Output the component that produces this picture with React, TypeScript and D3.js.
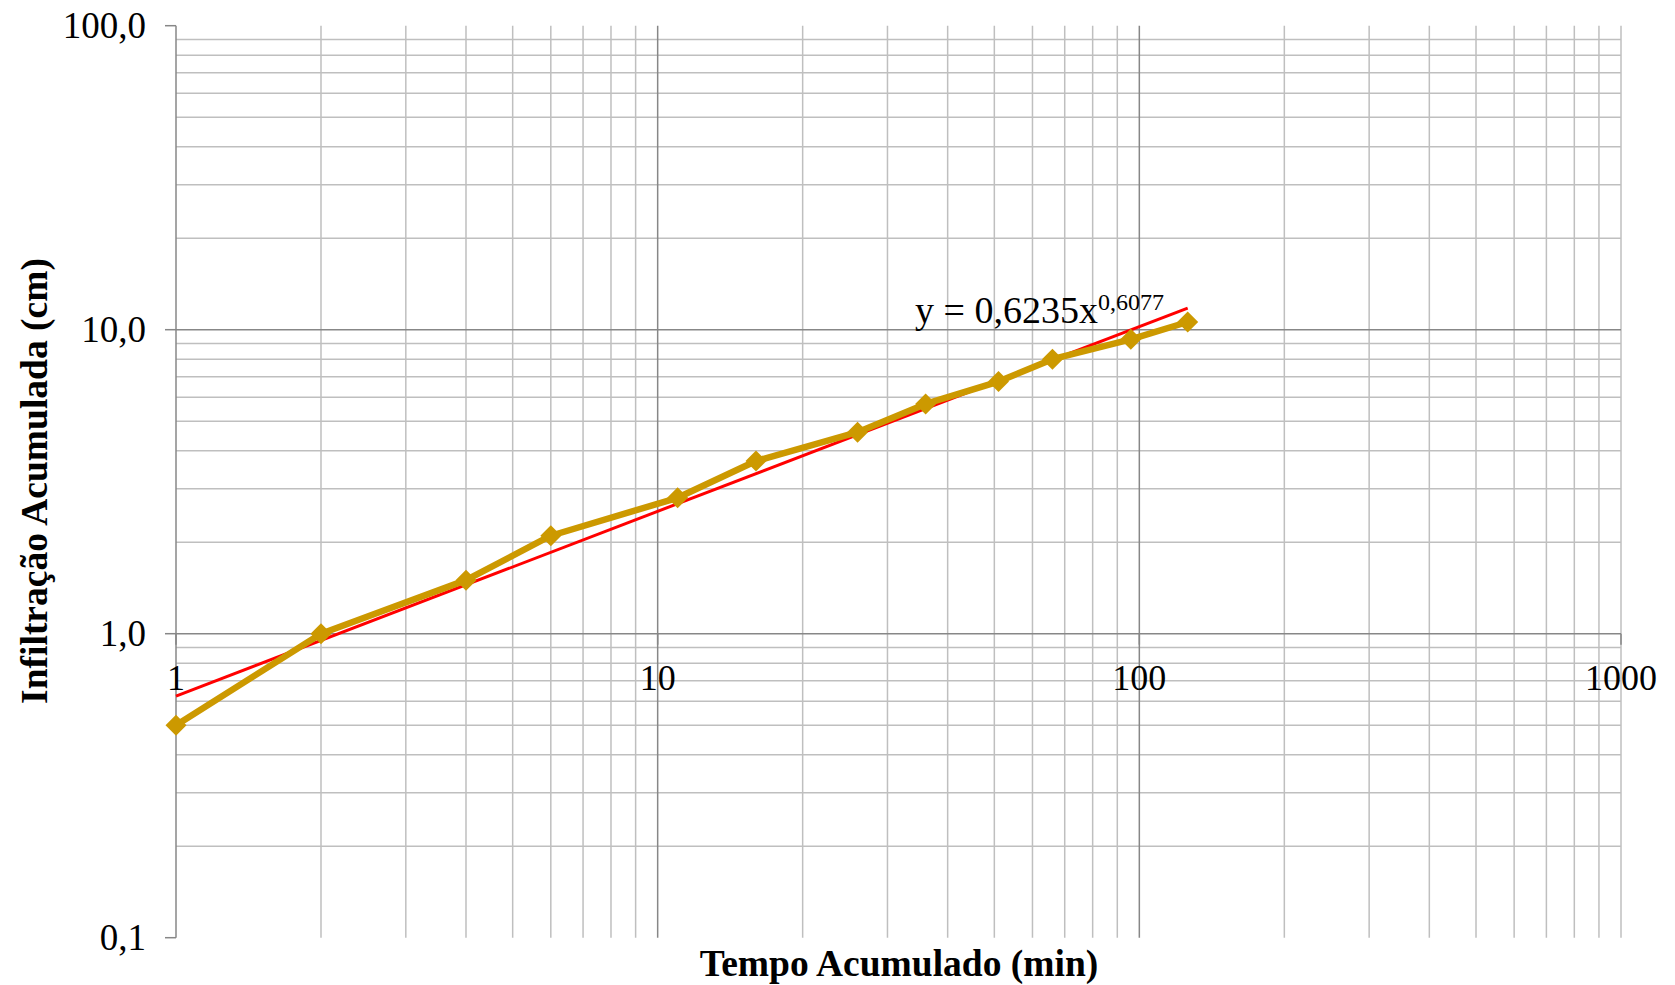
import React from "react";
import * as d3 from "d3";

const tempo = [1, 2, 4, 6, 11, 16, 26, 36, 51, 66, 96, 126];
const infiltracao = [0.5, 1.0, 1.5, 2.1, 2.8, 3.7, 4.6, 5.7, 6.75, 8.0, 9.3, 10.6];
const xTicks = [1, 10, 100, 1000];
const xTickLabels = ["1", "10", "100", "1000"];
const yTicks = [0.1, 1, 10, 100];
const yTickLabels = ["0,1", "1,0", "10,0", "100,0"];
const trendA = 0.6235;
const trendB = 0.6077;
const xTitle = "Tempo Acumulado (min)";
const yTitle = "Infiltração Acumulada (cm)";

const W = 1675;
const H = 985;
const L = 176, R = 1621, T = 25.7, B = 937.7;
const FONT = "'Liberation Serif', 'Times New Roman', serif";

export default function App() {
  const x = d3.scaleLog().domain([1, 1000]).range([L, R]);
  const y = d3.scaleLog().domain([0.1, 100]).range([B, T]);

  const minors: number[] = [];
  [1, 10, 100].forEach((d) => {
    for (let k = 2; k <= 9; k++) minors.push(d * k);
  });
  const yMinors: number[] = [];
  [0.1, 1, 10].forEach((d) => {
    for (let k = 2; k <= 9; k++) yMinors.push(+(d * k).toFixed(4));
  });

  const line = d3
    .line<number>()
    .x((_, i) => x(tempo[i]))
    .y((d) => y(d));

  const trendX = [tempo[0], tempo[tempo.length - 1]];
  const trendLine = d3
    .line<number>()
    .x((d) => x(d))
    .y((d) => y(trendA * Math.pow(d, trendB)));

  const minorColor = "#BFBFBF";
  const majorColor = "#878787";

  return (
    <svg
      width={W}
      height={H}
      style={{ position: "absolute", left: 0, top: 0, background: "#fff" }}
      fontFamily={FONT}
    >
      {minors.map((v) => (
        <line key={"vx" + v} x1={x(v)} x2={x(v)} y1={T} y2={B} stroke={minorColor} strokeWidth={1.5} />
      ))}
      {yMinors.map((v) => (
        <line key={"hy" + v} x1={L} x2={R} y1={y(v)} y2={y(v)} stroke={minorColor} strokeWidth={1.5} />
      ))}
      {[10, 100].map((v) => (
        <line key={"mx" + v} x1={x(v)} x2={x(v)} y1={T} y2={B} stroke={majorColor} strokeWidth={1.5} />
      ))}
      <line x1={x(1000)} x2={x(1000)} y1={T} y2={B} stroke={minorColor} strokeWidth={1.5} />
      {[10].map((v) => (
        <line key={"my" + v} x1={L} x2={R} y1={y(v)} y2={y(v)} stroke={majorColor} strokeWidth={1.5} />
      ))}
      <line x1={L} x2={R} y1={y(1)} y2={y(1)} stroke={majorColor} strokeWidth={1.5} />
      {xTicks.map((v) => (
        <line key={"xt" + v} x1={x(v)} x2={x(v)} y1={y(1)} y2={y(1) + 11} stroke={majorColor} strokeWidth={1.5} />
      ))}
      <line x1={L} x2={L} y1={T} y2={B} stroke={majorColor} strokeWidth={1.5} />
      {yTicks.map((v) => (
        <line key={"yt" + v} x1={L - 11} x2={L} y1={y(v)} y2={y(v)} stroke={majorColor} strokeWidth={1.5} />
      ))}

      {yTicks.map((v, i) => (
        <text key={"yl" + v} x={146} y={y(v) + 12.5} textAnchor="end" fontSize={37} fill="#000">
          {yTickLabels[i]}
        </text>
      ))}
      {xTicks.map((v, i) => (
        <text key={"xl" + v} x={x(v)} y={y(1) + 56} textAnchor="middle" fontSize={36} fill="#000">
          {xTickLabels[i]}
        </text>
      ))}

      <path d={trendLine(trendX) || ""} fill="none" stroke="#FF0000" strokeWidth={3} />

      <path
        d={line(infiltracao) || ""}
        fill="none"
        stroke="#CC9900"
        strokeWidth={6.5}
        strokeLinejoin="round"
      />
      {infiltracao.map((v, i) => (
        <path
          key={"m" + i}
          transform={`translate(${x(tempo[i])},${y(v)})`}
          d="M0,-10.5 L10.5,0 L0,10.5 L-10.5,0 Z"
          fill="#CC9900"
        />
      ))}

      <text x={915} y={323} fontSize={38} fill="#000">
        y = 0,6235x
        <tspan fontSize={24} dy={-13}>
          0,6077
        </tspan>
      </text>

      <text x={899} y={976} textAnchor="middle" fontSize={37.5} fontWeight="bold" fill="#000">
        {xTitle}
      </text>
      <text
        transform={`translate(47,481) rotate(-90)`}
        textAnchor="middle"
        fontSize={37.5}
        fontWeight="bold"
        fill="#000"
      >
        {yTitle}
      </text>
    </svg>
  );
}
